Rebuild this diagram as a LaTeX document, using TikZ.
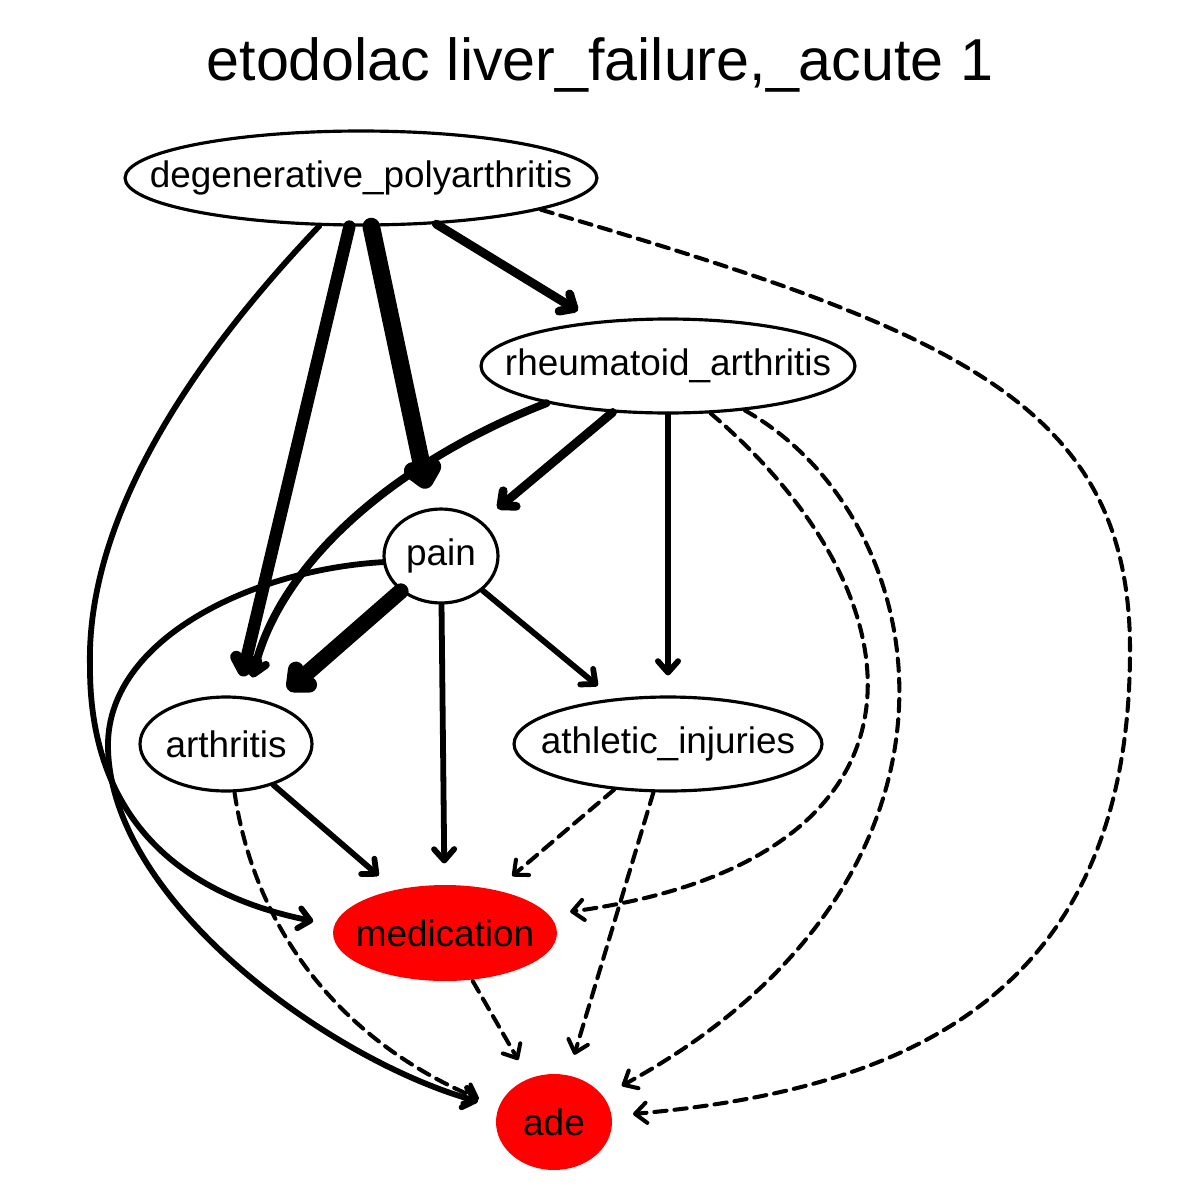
\documentclass[tikz,border=0pt]{standalone}
\usepackage{fontspec}
\setmainfont{Liberation Sans}
\usetikzlibrary{shapes.geometric, arrows.meta}

\tikzset{
  var/.style={ellipse, draw, line width=1.8pt, inner sep=0pt, minimum height=1.88cm,
    font=\fontsize{21}{25}\selectfont},
  outcome/.style={var, draw=none, fill=red, minimum height=1.92cm},
  link/.style={line width=3.3pt, line cap=round,
    -{Straight Barb[round, length=6.5pt, width=11.5pt]}, shorten >=0.4cm},
  dlink/.style={link, line width=2.3pt, dash pattern=on 7pt off 4.5pt},
}

\begin{document}
\begin{tikzpicture}[x=0.02cm, y=-0.02cm]
    \useasboundingbox (0, 0) rectangle (1200, 1200);

    \node (title) at (600, 65) {\fontsize{33.7}{40}\selectfont etodolac liver\_failure,\_acute 1};

    \node[var, minimum width=9.44cm] (dp) at (361, 178) {\makebox[0pt]{degenerative\_polyarthritis}};
    \node[var, minimum width=7.48cm] (ra) at (668, 366) {\makebox[0pt]{rheumatoid\_arthritis}};
    \node[var, minimum width=2.28cm] (pain) at (441, 556) {\makebox[0pt]{pain}};
    \node[var, minimum width=3.44cm] (art) at (226, 744) {\makebox[0pt]{arthritis}};
    \node[var, minimum width=6.16cm] (ai) at (668, 744) {\makebox[0pt]{athletic\_injuries}};
    \node[outcome, minimum width=4.48cm] (med) at (445, 933) {\makebox[0pt]{medication}};
    \node[outcome, minimum width=2.32cm] (ade) at (554, 1122) {\makebox[0pt]{ade}};

    % solid edges
    \draw[link, line width=7pt] (dp) -- (art);
    \draw[link, line width=10pt] (dp) -- (pain);
    \draw[link, line width=5pt] (dp) -- (ra);
    \draw[link] (dp.229) .. controls (220, 330) and (85, 500) .. (90, 668)
        .. controls (90, 800) and (160, 890) .. (med.176);

    \draw[link, line width=4.5pt] (ra.197) .. controls (400, 460) and (280, 560) .. (art.65);
    \draw[link, line width=5pt] (ra) -- (pain);
    \draw[link] (ra) -- (ai);

    \draw[link, line width=9pt] (pain) -- (art);
    \draw[link] (pain) -- (med);
    \draw[link] (pain) -- (ai);
    \draw[link] (pain.186) .. controls (250, 570) and (108, 640) .. (108, 745)
        .. controls (108, 900) and (330, 1060) .. (ade.165);

    \draw[link] (art) -- (med);

    % dashed edges
    \draw[dlink] (dp.-10) .. controls (950, 330) and (1130, 400) .. (1130, 650)
        .. controls (1130, 1000) and (900, 1090) .. (ade.6);
    \draw[dlink] (ra.-48) .. controls (930, 600) and (950, 860) .. (med.10);
    \draw[dlink] (ra.-30) .. controls (940, 520) and (1000, 880) .. (ade.28);
    \draw[dlink] (art.-80) .. controls (255, 930) and (340, 1040) .. (ade.165);
    \draw[dlink] (ai) -- (med);
    \draw[dlink] (ai) -- (ade);
    \draw[dlink] (med) -- (ade);
\end{tikzpicture}
\end{document}
